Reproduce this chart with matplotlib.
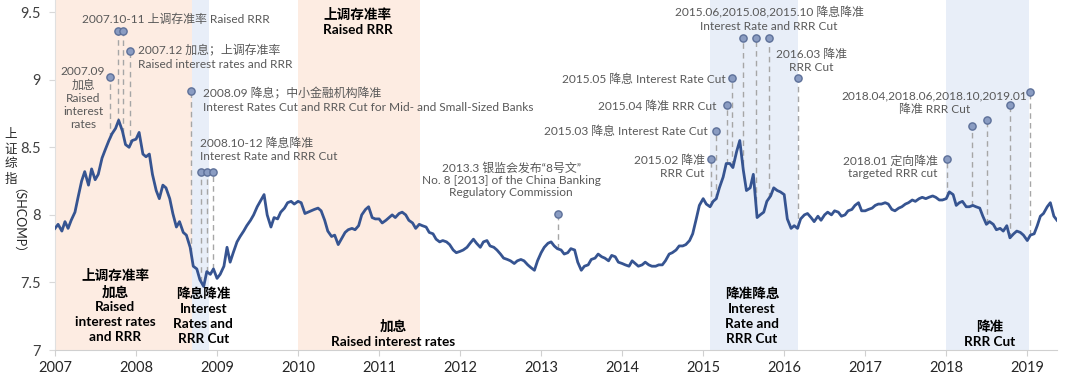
import numpy as np
import pandas as pd
import matplotlib
matplotlib.use("Agg")
import matplotlib.pyplot as plt

# ---- SHCOMP (log) semi-monthly values ----
v2007 = [7.90, 7.93, 7.88, 7.95, 7.90, 7.96, 8.02, 8.13, 8.25, 8.32, 8.22, 8.34,
         8.26, 8.30, 8.42, 8.48, 8.55, 8.60, 8.64, 8.70, 8.62, 8.52, 8.50, 8.55]
v2008 = [8.56, 8.61, 8.45, 8.43, 8.45, 8.30, 8.18, 8.12, 8.22, 8.20, 8.12, 8.01,
         7.91, 7.95, 7.87, 7.85, 7.76, 7.62, 7.60, 7.52, 7.47, 7.58, 7.56, 7.60]
v2009 = [7.53, 7.56, 7.62, 7.76, 7.65, 7.72, 7.80, 7.84, 7.88, 7.92, 7.96, 8.00,
         8.06, 8.10, 8.15, 8.00, 7.91, 7.98, 7.97, 8.02, 8.05, 8.09, 8.10, 8.08]
v2010 = [8.10, 8.09, 8.01, 8.02, 8.03, 8.04, 8.05, 8.03, 7.96, 7.88, 7.84, 7.85,
         7.78, 7.82, 7.87, 7.89, 7.90, 7.89, 7.92, 8.00, 8.04, 8.06, 7.98, 7.97]
v2011 = [7.97, 7.94, 7.96, 7.98, 8.00, 7.98, 8.01, 8.02, 8.00, 7.96, 7.94, 7.90,
         7.93, 7.92, 7.91, 7.87, 7.86, 7.82, 7.80, 7.81, 7.80, 7.78, 7.74, 7.72]
v2012 = [7.73, 7.74, 7.76, 7.79, 7.82, 7.79, 7.76, 7.80, 7.81, 7.77, 7.76, 7.74,
         7.71, 7.68, 7.67, 7.66, 7.64, 7.66, 7.67, 7.66, 7.63, 7.61, 7.59, 7.66]
v2013 = [7.72, 7.76, 7.79, 7.80, 7.77, 7.75, 7.74, 7.71, 7.72, 7.75, 7.74, 7.65,
         7.59, 7.62, 7.63, 7.67, 7.68, 7.71, 7.69, 7.68, 7.66, 7.70, 7.69, 7.65]
v2014 = [7.64, 7.63, 7.62, 7.66, 7.64, 7.62, 7.63, 7.65, 7.63, 7.62, 7.62, 7.63,
         7.63, 7.66, 7.71, 7.72, 7.74, 7.77, 7.77, 7.78, 7.81, 7.86, 7.97, 8.07]
v2015 = [8.12, 8.08, 8.06, 8.10, 8.12, 8.20, 8.28, 8.38, 8.38, 8.35, 8.47, 8.55,
         8.33, 8.18, 8.20, 8.30, 7.98, 8.00, 8.02, 8.10, 8.14, 8.20, 8.18, 8.17]
v2016 = [8.15, 7.97, 7.90, 7.92, 7.90, 7.97, 8.00, 8.01, 7.98, 7.95, 7.99, 7.96,
         8.00, 8.02, 8.00, 8.03, 8.02, 7.99, 8.00, 8.03, 8.04, 8.07, 8.09, 8.03]
v2017 = [8.03, 8.04, 8.05, 8.07, 8.08, 8.08, 8.09, 8.08, 8.04, 8.03, 8.05, 8.06,
         8.08, 8.09, 8.11, 8.10, 8.12, 8.13, 8.12, 8.13, 8.14, 8.13, 8.11, 8.11]
v2018 = [8.12, 8.17, 8.15, 8.07, 8.09, 8.10, 8.06, 8.06, 8.07, 8.06, 8.05, 7.99,
         7.93, 7.95, 7.93, 7.89, 7.90, 7.88, 7.92, 7.83, 7.86, 7.88, 7.87, 7.85]
v2019 = [7.81, 7.85, 7.86, 7.92, 7.99, 8.01, 8.06, 8.09, 7.99, 7.96]

# ---- policy events (markers) ----
event_dates = ['2007-09-06', '2007-10-10', '2007-11-03', '2007-12-05',
               '2008-09-05', '2008-10-20', '2008-11-16', '2008-12-15',
               '2013-03-17',
               '2015-02-04', '2015-03-01', '2015-04-20', '2015-05-10',
               '2015-06-28', '2015-08-26', '2015-10-24', '2016-03-01',
               '2018-01-04', '2018-04-25', '2018-07-05', '2018-10-15', '2019-01-15']
event_levels = [9.02, 9.36, 9.36, 9.21,
                8.92, 8.32, 8.32, 8.32,
                8.01,
                8.41, 8.62, 8.81, 9.01,
                9.31, 9.31, 9.31, 9.01,
                8.41, 8.66, 8.70, 8.81, 8.91]

# ---- policy regimes (shaded) ----
orange_periods = [(2007.0, 2008.69), (2010.0, 2011.50)]
blue_periods = [(2008.69, 2008.90), (2015.09, 2016.17), (2018.0, 2019.02)]

years = list(range(2007, 2020))
yticks = [7, 7.5, 8, 8.5, 9, 9.5]
ytick_labels = ['7', '7.5', '8', '8.5', '9', '9.5']


def dec_year(d):
    d = pd.DatetimeIndex(d)
    return np.asarray(d.year + (d.dayofyear - 1) / 365.25)


values = np.array(v2007 + v2008 + v2009 + v2010 + v2011 + v2012 + v2013 +
                  v2014 + v2015 + v2016 + v2017 + v2018 + v2019)
dates = pd.date_range('2007-01-01', periods=len(values), freq='SMS')
x = dec_year(dates)
ex = dec_year(pd.to_datetime(event_dates))

LAT = ['Lato', 'Noto Sans CJK SC', 'DejaVu Sans']
plt.rcParams['font.family'] = LAT

fig = plt.figure(figsize=(10.8, 3.83), dpi=100)
ax = fig.add_axes([55 / 1080, 1 - 350 / 383, (1057 - 55) / 1080, 350 / 383])
ax.set_xlim(2007.0, x[-1])
ax.set_ylim(7.0, 9.59)

for a, b in orange_periods:
    ax.axvspan(a, b, color='#fdece2', lw=0, zorder=0)
for a, b in blue_periods:
    ax.axvspan(a, b, color='#e8eef8', lw=0, zorder=0)

line_col = '#365491'
ax.plot(x, values, color=line_col, lw=2.0, zorder=3, solid_joinstyle='round')

# events: dashed drop lines + markers
for xe, ye in zip(ex, event_levels):
    yl = np.interp(xe, x, values)
    ax.plot([xe, xe], [yl, ye], color='#a6a6a6', lw=1.0, dashes=(4, 3), zorder=2)
ax.plot(ex, event_levels, 'o', ms=5.2, mfc='#8a9cc2', mec='#5d7099', mew=1.0, zorder=4)

gray = '#595959'
fs_a = 8.6


def px2x(px):
    return 2007 + (px - 55) / 80.8


def py2y(py):
    return 7 + (350 - py) / 135.2


def note(px, py, s, ha='left', color=gray, fs=fs_a, weight='normal', ls=1.2):
    ax.text(px2x(px), py2y(py), s, ha=ha, va='center', color=color, fontsize=fs,
            fontweight=weight, linespacing=ls, multialignment='center'
            if ha == 'center' else ha, zorder=5)


# grey annotations
note(82, 19, '2007.10-11 上调存准率 Raised RRR')
note(138, 57, '2007.12 加息；上调存准率\nRaised interest rates and RRR')
note(83, 98, '2007.09\n加息\nRaised\ninterest\nrates', ha='center', ls=1.25)
note(203, 100, '2008.09 降息；中小金融机构降准\nInterest Rates Cut and RRR Cut for Mid- and Small-Sized Banks')
note(200, 150, '2008.10-12 降息降准\nInterest Rate and RRR Cut')
note(510, 180, '2013.3 银监会发布“8号文”\nNo. 8 [2013] of the China Banking\nRegulatory Commission',
     ha='center', ls=1.15)
note(703, 167, '2015.02 降准\nRRR Cut', ha='right')
note(706, 131, '2015.03 降息 Interest Rate Cut', ha='right')
note(715, 106, '2015.04 降准 RRR Cut', ha='right')
note(724, 79, '2015.05 降息 Interest Rate Cut', ha='right')
note(767, 19, '2015.06,2015.08,2015.10 降息降准\nInterest Rate and RRR Cut', ha='center')
note(809, 61, '2016.03 降准\nRRR Cut', ha='center')
note(935, 167, '2018.01 定向降准\ntargeted RRR cut', ha='right')
note(932, 103, '2018.04,2018.06,2018.10,2019.01\n降准 RRR Cut', ha='center')

# bold regime labels
fs_b = 9.8
note(115, 306, '上调存准率\n加息\nRaised\ninterest rates\nand RRR', ha='center', color='black',
     fs=fs_b, weight='bold', ls=1.3)
note(203, 316, '降息降准\nInterest\nRates and\nRRR Cut', ha='center', color='black',
     fs=fs_b, weight='bold', ls=1.3)
note(357, 22, '上调存准率\nRaised RRR', ha='center', color='black', fs=fs_b, weight='bold', ls=1.3)
note(392, 334, '加息\nRaised interest rates', ha='center', color='black', fs=fs_b, weight='bold', ls=1.3)
note(750, 316, '降准降息\nInterest\nRate and\nRRR Cut', ha='center', color='black',
     fs=fs_b, weight='bold', ls=1.3)
note(987, 334, '降准\nRRR Cut', ha='center', color='black', fs=fs_b, weight='bold', ls=1.3)

# axes styling
for s in ['top', 'right']:
    ax.spines[s].set_visible(False)
ax.spines['bottom'].set_color('#d0d0d0')
ax.spines['left'].set_color('#e0e0e0')
ax.set_xticks(years)
ax.set_xticklabels([str(y) for y in years])
ax.set_yticks(yticks)
ax.set_yticklabels(ytick_labels)
ax.tick_params(axis='x', colors='#d0d0d0', labelcolor='#262626', labelsize=10.5, length=4, pad=4)
ax.tick_params(axis='y', colors='#d9d9d9', labelcolor='#404040', labelsize=10.5, length=4, pad=6)
ax.patch.set_alpha(0)

# vertical y-axis title: CJK upright, latin rotated
for i, ch in enumerate('上证综指'):
    fig.text(11 / 1080, 1 - (134 + i * 15) / 383, ch, ha='center', va='center',
             fontsize=9, color='#262626', family=['Noto Sans CJK SC'])
fig.text(11 / 1080, 1 - 227 / 383, '（SHCOMP）', rotation=-90, ha='center', va='center',
         fontsize=9, color='#262626', family=['Lato', 'Noto Sans CJK SC'])

fig.savefig('out.png', dpi=100)
